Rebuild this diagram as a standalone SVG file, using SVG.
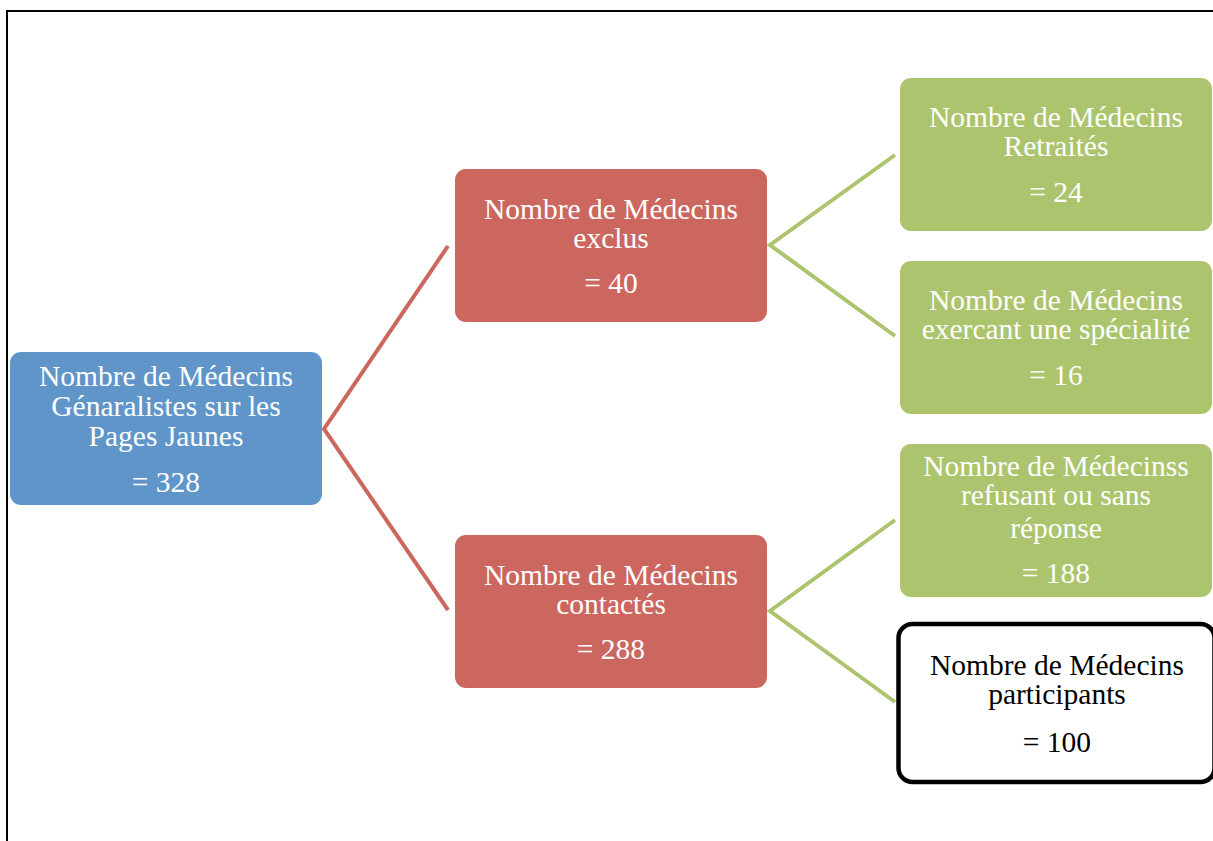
<svg xmlns="http://www.w3.org/2000/svg" width="1213" height="841" viewBox="0 0 1213 841">
<style>
  text { font-family: "Liberation Serif", "DejaVu Serif", serif; font-size: 29.5px; text-anchor: middle; fill: #ffffff; }
  .dark text { fill: #000000; }
  .blue { fill: #5f95c9; }
  .red { fill: #cc675f; }
  .green { fill: #abc46d; }
  .conn-red { stroke: #cc675f; stroke-width: 4; fill: none; }
  .conn-green { stroke: #abc46d; stroke-width: 4; fill: none; }
</style>
<rect x="0" y="0" width="1213" height="841" fill="#ffffff"/>
<path d="M7,842 V11 H1214" fill="none" stroke="#000000" stroke-width="2"/>
<g id="connectors">
  <path class="conn-red" d="M448,246 L324,429 L448,610"/>
  <path class="conn-green" d="M895,155 L770,245 L895,336"/>
  <path class="conn-green" d="M895,520 L770,611 L895,702"/>
</g>
<g id="node-total">
  <rect class="blue" x="10" y="352" width="312" height="153" rx="11"/>
  <text x="166" y="386">Nombre de Médecins</text>
  <text x="166" y="416">Génaralistes sur les</text>
  <text x="166" y="446">Pages Jaunes</text>
  <text x="166" y="492">= 328</text>
</g>
<g id="node-exclus">
  <rect class="red" x="455" y="169" width="312" height="153" rx="11"/>
  <text x="611" y="219">Nombre de Médecins</text>
  <text x="611" y="248">exclus</text>
  <text x="611" y="293">= 40</text>
</g>
<g id="node-contactes">
  <rect class="red" x="455" y="535" width="312" height="153" rx="11"/>
  <text x="611" y="585">Nombre de Médecins</text>
  <text x="611" y="614">contactés</text>
  <text x="611" y="659">= 288</text>
</g>
<g id="node-retraites">
  <rect class="green" x="900" y="78" width="312" height="153" rx="11"/>
  <text x="1056" y="127">Nombre de Médecins</text>
  <text x="1056" y="156">Retraités</text>
  <text x="1056" y="202">= 24</text>
</g>
<g id="node-specialite">
  <rect class="green" x="900" y="261" width="312" height="153" rx="11"/>
  <text x="1056" y="310">Nombre de Médecins</text>
  <text x="1056" y="339">exercant une spécialité</text>
  <text x="1056" y="385">= 16</text>
</g>
<g id="node-refusant">
  <rect class="green" x="900" y="444" width="312" height="153" rx="11"/>
  <text x="1056" y="476">Nombre de Médecinss</text>
  <text x="1056" y="505">refusant ou sans</text>
  <text x="1056" y="538">réponse</text>
  <text x="1056" y="583">= 188</text>
</g>
<g id="node-participants" class="dark">
  <rect x="898.5" y="624" width="316" height="158" rx="14" fill="#ffffff" stroke="#000000" stroke-width="4.5"/>
  <text x="1057" y="675">Nombre de Médecins</text>
  <text x="1057" y="704">participants</text>
  <text x="1057" y="752">= 100</text>
</g>
</svg>
